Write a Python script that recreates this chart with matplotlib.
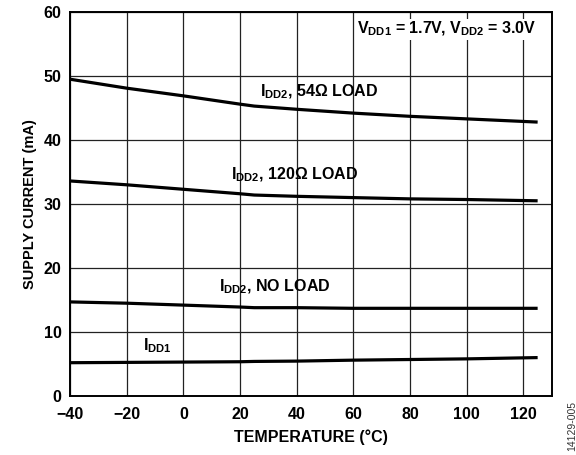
import matplotlib.pyplot as plt

plt.rcParams['font.family'] = ['Liberation Sans', 'DejaVu Sans']
plt.rcParams['font.weight'] = 'bold'
plt.rcParams['mathtext.fontset'] = 'custom'
plt.rcParams['mathtext.rm'] = 'Liberation Sans:bold'
plt.rcParams['mathtext.bf'] = 'Liberation Sans:bold'

# Temperature points (°C)
temp = [-40, -20, 0, 20, 25, 40, 60, 80, 100, 125]

# Supply current curves (mA)
idd2_54 = [49.5, 48.1, 46.9, 45.6, 45.3, 44.8, 44.2, 43.7, 43.3, 42.8]
idd2_120 = [33.6, 33.0, 32.3, 31.6, 31.4, 31.2, 31.0, 30.8, 30.7, 30.5]
idd2_noload = [14.7, 14.5, 14.2, 13.9, 13.8, 13.8, 13.7, 13.7, 13.7, 13.7]
idd1 = [5.2, 5.25, 5.3, 5.35, 5.4, 5.45, 5.6, 5.7, 5.8, 6.0]

xticks = [-40, -20, 0, 20, 40, 60, 80, 100, 120]
xtick_labels = ['\u221240', '\u221220', '0', '20', '40', '60', '80', '100', '120']
yticks = [0, 10, 20, 30, 40, 50, 60]

fs = 11.5

fig = plt.figure(figsize=(5.76, 4.55), dpi=100)
ax = fig.add_axes([0.1215, 0.1297, 0.8365, 0.8439])

for y in [idd2_54, idd2_120, idd2_noload, idd1]:
    ax.plot(temp, y, color='black', lw=2.3, solid_capstyle='butt', zorder=3)

ax.set_xlim(-40, 130)
ax.set_ylim(0, 60)
ax.set_xticks(xticks)
ax.set_xticklabels(xtick_labels)
ax.set_yticks(yticks)
ax.tick_params(length=0, labelsize=fs)
ax.tick_params(axis='x', pad=8)
ax.tick_params(axis='y', pad=6)
ax.grid(True, color='#222222', lw=0.9)
ax.set_axisbelow(True)
for s in ax.spines.values():
    s.set_linewidth(1.4)

ax.set_xlabel('TEMPERATURE (°C)', fontsize=fs, fontweight='bold', labelpad=5)
ax.set_ylabel('SUPPLY CURRENT (mA)', fontsize=10.5, fontweight='bold', labelpad=5)

ax.text(27.0, 47.6, r'I$_{\mathrm{DD2}}$, 54Ω LOAD', fontsize=fs, fontweight='bold',
        ha='left', va='center')
ax.text(16.9, 34.5, r'I$_{\mathrm{DD2}}$, 120Ω LOAD', fontsize=fs, fontweight='bold',
        ha='left', va='center')
ax.text(12.7, 17.0, r'I$_{\mathrm{DD2}}$, NO LOAD', fontsize=fs, fontweight='bold',
        ha='left', va='center')
ax.text(-14.2, 7.8, r'I$_{\mathrm{DD1}}$', fontsize=fs, fontweight='bold',
        ha='left', va='center')
ax.text(61.4, 57.3, r'V$_{\mathrm{DD1}}$ = 1.7V, V$_{\mathrm{DD2}}$ = 3.0V', fontsize=fs,
        fontweight='bold', ha='left', va='center',
        bbox=dict(facecolor='white', edgecolor='none', pad=1))

fig.text(0.993, 0.064, '14129-005', rotation=90, fontsize=7.5, fontweight='normal',
         ha='center', va='center', color='#333333')

fig.savefig('out.png', dpi=100)
